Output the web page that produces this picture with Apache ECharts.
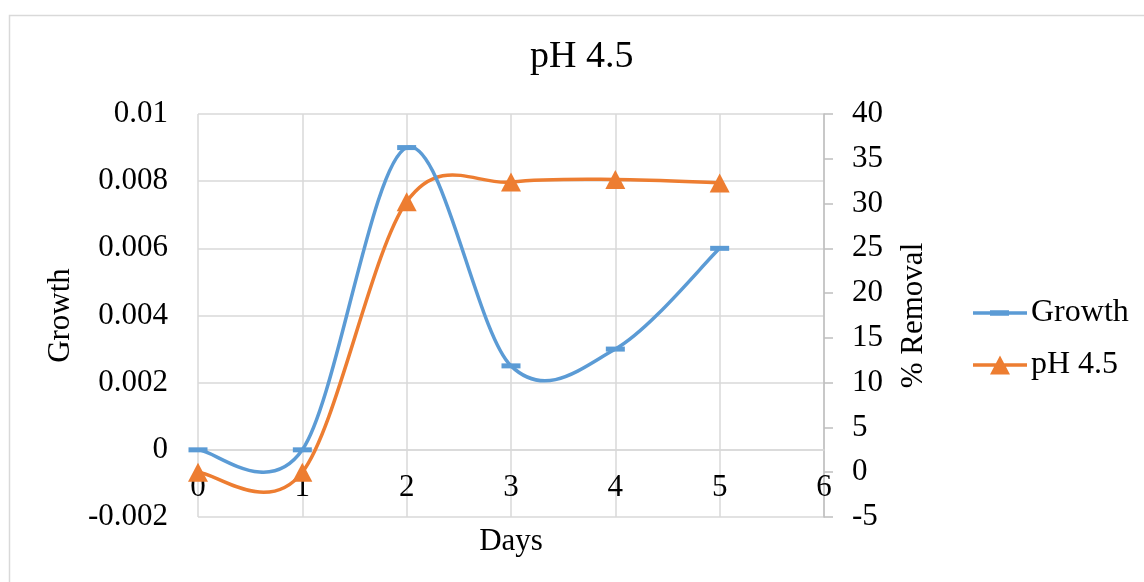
<!DOCTYPE html>
<html>
<head>
<meta charset="utf-8">
<script src="https://cdn.jsdelivr.net/npm/echarts@6/dist/echarts.min.js"></script>
<style>
  html, body { margin: 0; padding: 0; background: #fff; }
  #chart { width: 1144px; height: 582px; }
</style>
</head>
<body>
<div id="chart"></div>
<script>
// Days on the x axis
const days = [0, 1, 2, 3, 4, 5];
// Growth (left axis)
const growth = [0, 0, 0.009, 0.0025, 0.003, 0.006];
// % Removal at pH 4.5 (right axis)
const removal = [0, 0, 30.2, 32.4, 32.7, 32.3];

// Axis ranges
const growthMin = -0.002, growthMax = 0.01, growthStep = 0.002;
const removalMin = -5, removalMax = 40, removalStep = 5;
const dayMin = 0, dayMax = 6;

const FONT = '"Liberation Serif", "Times New Roman", serif';
const GRID_COLOR = '#d9d9d9';
const BLUE = '#5B9BD5';
const ORANGE = '#ED7D31';
const LINE_W = 3.5;

const W = 1144, H = 582;
const GRID = { left: 198, right: 320, top: 114, bottom: 65 };
const plotH = H - GRID.top - GRID.bottom;
// The day axis crosses the growth axis at zero
const dayAxisOffset = -plotH * (0 - growthMin) / (growthMax - growthMin);

const pairs = (xs, ys) => xs.map((x, i) => [x, ys[i]]);

// Cardinal (Catmull-Rom style) spline through the data points:
// each data item draws the bezier segment to the next point.
function splineSegment(xs, ys, color) {
  return function (params, api) {
    const i = params.dataIndex;
    const n = xs.length;
    if (i >= n - 1) return null;
    const pt = k => {
      const j = Math.max(0, Math.min(n - 1, k));
      return api.coord([xs[j], ys[j]]);
    };
    const p0 = pt(i - 1), p1 = pt(i), p2 = pt(i + 1), p3 = pt(i + 2);
    const t = 1 / 6;
    return {
      type: 'bezierCurve',
      shape: {
        x1: p1[0], y1: p1[1],
        cpx1: p1[0] + (p2[0] - p0[0]) * t, cpy1: p1[1] + (p2[1] - p0[1]) * t,
        cpx2: p2[0] - (p3[0] - p1[0]) * t, cpy2: p2[1] - (p3[1] - p1[1]) * t,
        x2: p2[0], y2: p2[1]
      },
      style: { fill: null, stroke: color, lineWidth: LINE_W, lineCap: 'round' }
    };
  };
}

// Legend keys: a line with the series marker across its middle
const growthKey = 'path://M0 1H54V4.5H0Z M17 0H36V5.5H17Z';
const removalKey = 'path://M0 7.75H54V11.25H0Z M27 0L37 19H17Z';

const chart = echarts.init(document.getElementById('chart'));
chart.setOption({
  animation: false,
  backgroundColor: '#fff',
  textStyle: { fontFamily: FONT, color: '#000' },
  graphic: [{
    type: 'rect',
    shape: { x: 9.5, y: 15.5, width: 1150, height: 600 },
    style: { fill: 'none', stroke: GRID_COLOR, lineWidth: 1.5 },
    silent: true
  }],
  title: {
    text: 'pH 4.5',
    left: 530,
    top: 38,
    padding: 0,
    textStyle: { fontFamily: FONT, fontSize: 38, fontWeight: 'normal', color: '#000' }
  },
  legend: {
    orient: 'vertical',
    left: 973,
    top: 297,
    itemWidth: 54,
    itemHeight: 22,
    itemGap: 20,
    padding: 0,
    textStyle: { fontFamily: FONT, fontSize: 32, color: '#000', padding: [0, 0, 0, -1] },
    data: [
      { name: 'Growth', icon: growthKey, itemStyle: { color: BLUE, borderWidth: 0 } },
      { name: 'pH 4.5', icon: removalKey, itemStyle: { color: ORANGE, borderWidth: 0 } }
    ]
  },
  grid: Object.assign({ containLabel: false, outerBoundsMode: 'none' }, GRID),
  xAxis: {
    type: 'value',
    min: dayMin, max: dayMax, interval: 1,
    offset: dayAxisOffset,
    name: 'Days',
    nameLocation: 'middle',
    nameGap: 77,
    nameMoveOverlap: false,
    nameTextStyle: { fontFamily: FONT, fontSize: 31, color: '#000' },
    axisLine: { show: true, onZero: false, lineStyle: { color: GRID_COLOR, width: 1.5 } },
    axisTick: { show: false },
    axisLabel: { fontFamily: FONT, fontSize: 31, color: '#000', margin: 23 },
    splitLine: { show: true, lineStyle: { color: GRID_COLOR, width: 1.5 } }
  },
  yAxis: [{
    type: 'value',
    min: growthMin, max: growthMax, interval: growthStep,
    name: 'Growth',
    nameLocation: 'middle',
    nameGap: 122,
    nameMoveOverlap: false,
    nameTextStyle: { fontFamily: FONT, fontSize: 31, color: '#000' },
    axisLine: { show: false, onZero: false },
    axisTick: { show: false },
    axisLabel: {
      fontFamily: FONT, fontSize: 31, color: '#000', margin: 30,
      formatter: v => String(parseFloat(v.toFixed(4)))
    },
    splitLine: { show: true, lineStyle: { color: GRID_COLOR, width: 1.5 } }
  }, {
    type: 'value',
    position: 'right',
    min: removalMin, max: removalMax, interval: removalStep,
    name: '% Removal',
    nameLocation: 'middle',
    nameRotate: 90,
    nameGap: 74,
    nameMoveOverlap: false,
    nameTextStyle: { fontFamily: FONT, fontSize: 31, color: '#000' },
    axisLine: { show: true, onZero: false, lineStyle: { color: '#bfbfbf', width: 1.5 } },
    axisTick: { show: true, length: 9, lineStyle: { color: '#bfbfbf', width: 1.5 } },
    axisLabel: { fontFamily: FONT, fontSize: 31, color: '#000', margin: 28 },
    splitLine: { show: false }
  }],
  series: [{
    name: 'Growth curve',
    type: 'custom',
    yAxisIndex: 0,
    data: pairs(days, growth),
    encode: { x: 0, y: 1 },
    renderItem: splineSegment(days, growth, BLUE),
    silent: true,
    z: 2
  }, {
    name: 'pH 4.5 curve',
    type: 'custom',
    yAxisIndex: 1,
    data: pairs(days, removal),
    encode: { x: 0, y: 1 },
    renderItem: splineSegment(days, removal, ORANGE),
    silent: true,
    z: 1
  }, {
    name: 'Growth',
    type: 'line',
    yAxisIndex: 0,
    data: pairs(days, growth),
    symbol: 'rect',
    symbolSize: [19, 5],
    color: BLUE,
    lineStyle: { width: LINE_W, color: BLUE, opacity: 0 },
    itemStyle: { color: BLUE },
    z: 4
  }, {
    name: 'pH 4.5',
    type: 'line',
    yAxisIndex: 1,
    data: pairs(days, removal),
    symbol: 'triangle',
    symbolSize: [20, 19],
    color: ORANGE,
    lineStyle: { width: LINE_W, color: ORANGE, opacity: 0 },
    itemStyle: { color: ORANGE },
    z: 3
  }]
});
</script>
</body>
</html>
